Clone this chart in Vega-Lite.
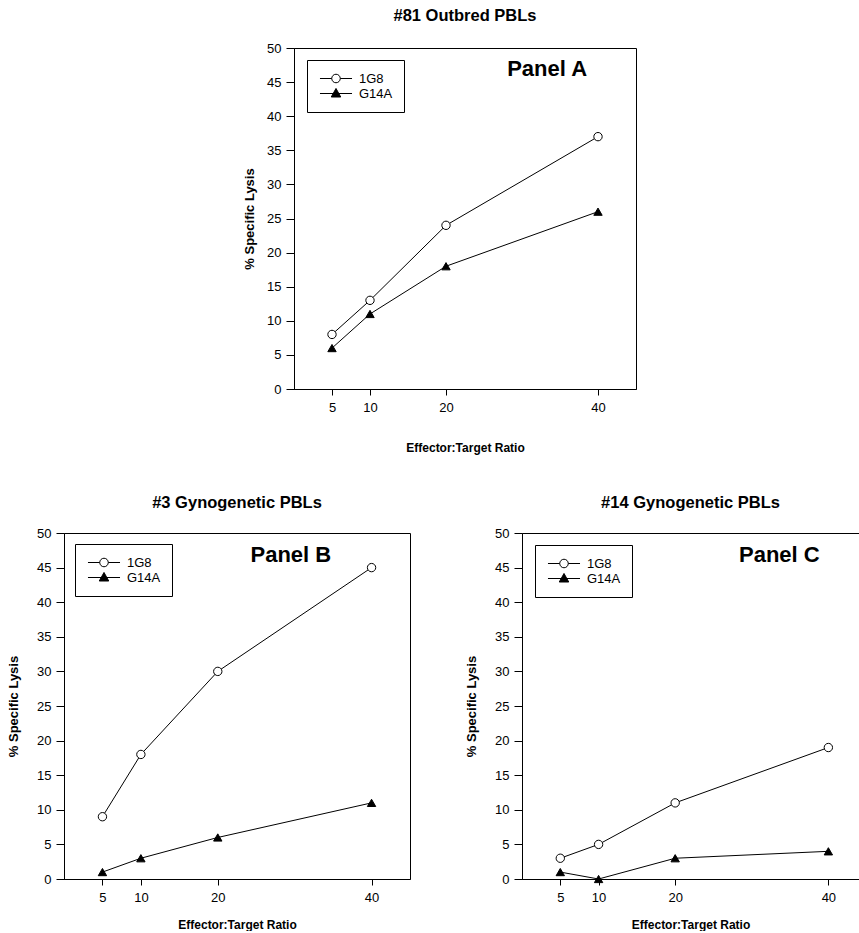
{
  "$schema": "https://vega.github.io/schema/vega-lite/v6.json",
  "background": "white",
  "padding": {"left": 7, "top": 7, "right": 0, "bottom": 0},
  "datasets": {
    "lysis": [
      {"panel": "A", "clone": "1G8", "ratio": 5, "lysis": 8},
      {"panel": "A", "clone": "1G8", "ratio": 10, "lysis": 13},
      {"panel": "A", "clone": "1G8", "ratio": 20, "lysis": 24},
      {"panel": "A", "clone": "1G8", "ratio": 40, "lysis": 37},
      {"panel": "A", "clone": "G14A", "ratio": 5, "lysis": 6},
      {"panel": "A", "clone": "G14A", "ratio": 10, "lysis": 11},
      {"panel": "A", "clone": "G14A", "ratio": 20, "lysis": 18},
      {"panel": "A", "clone": "G14A", "ratio": 40, "lysis": 26},
      {"panel": "B", "clone": "1G8", "ratio": 5, "lysis": 9},
      {"panel": "B", "clone": "1G8", "ratio": 10, "lysis": 18},
      {"panel": "B", "clone": "1G8", "ratio": 20, "lysis": 30},
      {"panel": "B", "clone": "1G8", "ratio": 40, "lysis": 45},
      {"panel": "B", "clone": "G14A", "ratio": 5, "lysis": 1},
      {"panel": "B", "clone": "G14A", "ratio": 10, "lysis": 3},
      {"panel": "B", "clone": "G14A", "ratio": 20, "lysis": 6},
      {"panel": "B", "clone": "G14A", "ratio": 40, "lysis": 11},
      {"panel": "C", "clone": "1G8", "ratio": 5, "lysis": 3},
      {"panel": "C", "clone": "1G8", "ratio": 10, "lysis": 5},
      {"panel": "C", "clone": "1G8", "ratio": 20, "lysis": 11},
      {"panel": "C", "clone": "1G8", "ratio": 40, "lysis": 19},
      {"panel": "C", "clone": "G14A", "ratio": 5, "lysis": 1},
      {"panel": "C", "clone": "G14A", "ratio": 10, "lysis": 0},
      {"panel": "C", "clone": "G14A", "ratio": 20, "lysis": 3},
      {"panel": "C", "clone": "G14A", "ratio": 40, "lysis": 4}
    ],
    "panels": [
      {"panel": "A", "label": "Panel A"},
      {"panel": "B", "label": "Panel B"},
      {"panel": "C", "label": "Panel C"}
    ]
  },
  "spacing": 0,
  "bounds": "flush",
  "vconcat": [
    {
      "spacing": 0,
      "bounds": "flush",
      "resolve": {"scale": {"shape": "independent", "fill": "independent", "stroke": "independent"}, "legend": {"shape": "independent", "fill": "independent", "stroke": "independent"}},
      "hconcat": [
        {
          "width": 230,
          "height": 1,
          "data": {"values": [{}]},
          "mark": {"type": "point", "opacity": 0},
          "encoding": {},
          "view": {"stroke": null}
        },
        {
          "width": 342,
          "height": 341,
          "title": {"text": "#81 Outbred PBLs", "offset": 18},
          "resolve": {"scale": {"shape": "independent", "fill": "independent", "stroke": "independent"}, "legend": {"shape": "independent", "fill": "independent", "stroke": "independent"}},
          "layer": [
            {
              "data": {"name": "lysis"},
              "transform": [{"filter": "datum.panel === 'A'"}],
              "mark": {"type": "line", "color": "black", "strokeWidth": 1},
              "encoding": {
                "x": {"field": "ratio", "type": "quantitative", "scale": {"domain": [0, 45], "nice": false, "zero": false},
                      "axis": {"values": [5, 10, 20, 40], "title": "Effector:Target Ratio", "titlePadding": 28}},
                "y": {"field": "lysis", "type": "quantitative", "scale": {"domain": [0, 50], "nice": false},
                      "axis": {"values": [0, 5, 10, 15, 20, 25, 30, 35, 40, 45, 50], "title": "% Specific Lysis", "titlePadding": 10}},
                "detail": {"field": "clone"}
              }
            },
            {
              "data": {"name": "lysis"},
              "transform": [{"filter": "datum.panel === 'A'"}],
              "mark": {"type": "point", "filled": true, "strokeWidth": 1, "size": 196, "opacity": 0},
              "encoding": {
                "x": {"field": "ratio", "type": "quantitative",
                      "axis": {"values": [5, 10, 20, 40], "title": "Effector:Target Ratio", "titlePadding": 28}},
                "y": {"field": "lysis", "type": "quantitative",
                      "axis": {"values": [0, 5, 10, 15, 20, 25, 30, 35, 40, 45, 50], "title": "% Specific Lysis", "titlePadding": 10}},
                "shape": {"field": "clone", "type": "nominal",
                          "scale": {"domain": ["1G8", "G14A"], "range": ["M-2.29,0H-0.61M0.61,0H2.29M-0.61,0A0.61,0.61 0 1,0 0.61,0A0.61,0.61 0 1,0 -0.61,0", "M-2.29,0H2.29M0,-0.72L0.68,0.5H-0.68Z"]},
                          "legend": {"title": null, "orient": "none", "legendX": 13, "legendY": 12}},
                "fill": {"field": "clone", "type": "nominal", "scale": {"domain": ["1G8", "G14A"], "range": ["white", "black"]},
                         "legend": {"title": null, "orient": "none", "legendX": 13, "legendY": 12}},
                "stroke": {"field": "clone", "type": "nominal", "scale": {"domain": ["1G8", "G14A"], "range": ["black", "black"]},
                         "legend": {"title": null, "orient": "none", "legendX": 13, "legendY": 12}}
              }
            },
            {
              "data": {"name": "lysis"},
              "transform": [{"filter": "datum.panel === 'A'"}],
              "mark": {"type": "point", "filled": true, "stroke": "black", "strokeWidth": 1, "size": 70, "opacity": 1},
              "encoding": {
                "x": {"field": "ratio", "type": "quantitative",
                      "axis": {"values": [5, 10, 20, 40], "title": "Effector:Target Ratio", "titlePadding": 28}},
                "y": {"field": "lysis", "type": "quantitative",
                      "axis": {"values": [0, 5, 10, 15, 20, 25, 30, 35, 40, 45, 50], "title": "% Specific Lysis", "titlePadding": 10}},
                "shape": {"field": "clone", "type": "nominal", "scale": {"range": ["circle", "triangle-up"]}, "legend": null},
                "fill": {"field": "clone", "type": "nominal", "scale": {"range": ["white", "black"]}, "legend": null}
              }
            },
            {
              "data": {"name": "panels"},
              "transform": [{"filter": "datum.panel === 'A'"}],
              "mark": {"type": "text", "fontSize": 22, "fontWeight": "bold", "color": "black", "align": "center", "baseline": "middle"},
              "encoding": {
                "x": {"datum": 33.3, "type": "quantitative",
                      "axis": {"values": [5, 10, 20, 40], "title": "Effector:Target Ratio", "titlePadding": 28}},
                "y": {"datum": 46.9, "type": "quantitative",
                      "axis": {"values": [0, 5, 10, 15, 20, 25, 30, 35, 40, 45, 50], "title": "% Specific Lysis", "titlePadding": 10}},
                "text": {"field": "label"}
              }
            }
          ]
        }
      ]
    },
    {
      "width": 1,
      "height": 485,
      "data": {"values": [{}]},
      "mark": {"type": "point", "opacity": 0},
      "encoding": {},
      "view": {"stroke": null}
    },
    {
      "spacing": 112,
      "bounds": "flush",
      "resolve": {"scale": {"shape": "independent", "fill": "independent", "stroke": "independent"}, "legend": {"shape": "independent", "fill": "independent", "stroke": "independent"}},
      "hconcat": [
        {
          "width": 346,
          "height": 346,
          "title": {"text": "#3 Gynogenetic PBLs", "offset": 16},
          "resolve": {"scale": {"shape": "independent", "fill": "independent", "stroke": "independent"}, "legend": {"shape": "independent", "fill": "independent", "stroke": "independent"}},
          "layer": [
            {
              "data": {"name": "lysis"},
              "transform": [{"filter": "datum.panel === 'B'"}],
              "mark": {"type": "line", "color": "black", "strokeWidth": 1},
              "encoding": {
                "x": {"field": "ratio", "type": "quantitative", "scale": {"domain": [0, 45], "nice": false, "zero": false},
                      "axis": {"values": [5, 10, 20, 40], "title": "Effector:Target Ratio", "titlePadding": 15}},
                "y": {"field": "lysis", "type": "quantitative", "scale": {"domain": [0, 50], "nice": false},
                      "axis": {"values": [0, 5, 10, 15, 20, 25, 30, 35, 40, 45, 50], "title": "% Specific Lysis", "titlePadding": 16}},
                "detail": {"field": "clone"}
              }
            },
            {
              "data": {"name": "lysis"},
              "transform": [{"filter": "datum.panel === 'B'"}],
              "mark": {"type": "point", "filled": true, "strokeWidth": 1, "size": 196, "opacity": 0},
              "encoding": {
                "x": {"field": "ratio", "type": "quantitative",
                      "axis": {"values": [5, 10, 20, 40], "title": "Effector:Target Ratio", "titlePadding": 15}},
                "y": {"field": "lysis", "type": "quantitative",
                      "axis": {"values": [0, 5, 10, 15, 20, 25, 30, 35, 40, 45, 50], "title": "% Specific Lysis", "titlePadding": 16}},
                "shape": {"field": "clone", "type": "nominal",
                          "scale": {"domain": ["1G8", "G14A"], "range": ["M-2.29,0H-0.61M0.61,0H2.29M-0.61,0A0.61,0.61 0 1,0 0.61,0A0.61,0.61 0 1,0 -0.61,0", "M-2.29,0H2.29M0,-0.72L0.68,0.5H-0.68Z"]},
                          "legend": {"title": null, "orient": "none", "legendX": 11, "legendY": 11}},
                "fill": {"field": "clone", "type": "nominal", "scale": {"domain": ["1G8", "G14A"], "range": ["white", "black"]},
                         "legend": {"title": null, "orient": "none", "legendX": 11, "legendY": 11}},
                "stroke": {"field": "clone", "type": "nominal", "scale": {"domain": ["1G8", "G14A"], "range": ["black", "black"]},
                         "legend": {"title": null, "orient": "none", "legendX": 11, "legendY": 11}}
              }
            },
            {
              "data": {"name": "lysis"},
              "transform": [{"filter": "datum.panel === 'B'"}],
              "mark": {"type": "point", "filled": true, "stroke": "black", "strokeWidth": 1, "size": 70, "opacity": 1},
              "encoding": {
                "x": {"field": "ratio", "type": "quantitative",
                      "axis": {"values": [5, 10, 20, 40], "title": "Effector:Target Ratio", "titlePadding": 15}},
                "y": {"field": "lysis", "type": "quantitative",
                      "axis": {"values": [0, 5, 10, 15, 20, 25, 30, 35, 40, 45, 50], "title": "% Specific Lysis", "titlePadding": 16}},
                "shape": {"field": "clone", "type": "nominal", "scale": {"range": ["circle", "triangle-up"]}, "legend": null},
                "fill": {"field": "clone", "type": "nominal", "scale": {"range": ["white", "black"]}, "legend": null}
              }
            },
            {
              "data": {"name": "panels"},
              "transform": [{"filter": "datum.panel === 'B'"}],
              "mark": {"type": "text", "fontSize": 22, "fontWeight": "bold", "color": "black", "align": "center", "baseline": "middle"},
              "encoding": {
                "x": {"datum": 29.5, "type": "quantitative",
                      "axis": {"values": [5, 10, 20, 40], "title": "Effector:Target Ratio", "titlePadding": 15}},
                "y": {"datum": 46.8, "type": "quantitative",
                      "axis": {"values": [0, 5, 10, 15, 20, 25, 30, 35, 40, 45, 50], "title": "% Specific Lysis", "titlePadding": 16}},
                "text": {"field": "label"}
              }
            }
          ]
        },
        {
          "width": 337,
          "height": 346,
          "title": {"text": "#14 Gynogenetic PBLs", "offset": 16},
          "resolve": {"scale": {"shape": "independent", "fill": "independent", "stroke": "independent"}, "legend": {"shape": "independent", "fill": "independent", "stroke": "independent"}},
          "layer": [
            {
              "data": {"name": "lysis"},
              "transform": [{"filter": "datum.panel === 'C'"}],
              "mark": {"type": "line", "color": "black", "strokeWidth": 1},
              "encoding": {
                "x": {"field": "ratio", "type": "quantitative", "scale": {"domain": [0, 44], "nice": false, "zero": false},
                      "axis": {"values": [5, 10, 20, 40], "title": "Effector:Target Ratio", "titlePadding": 15}},
                "y": {"field": "lysis", "type": "quantitative", "scale": {"domain": [0, 50], "nice": false},
                      "axis": {"values": [0, 5, 10, 15, 20, 25, 30, 35, 40, 45, 50], "title": "% Specific Lysis", "titlePadding": 16}},
                "detail": {"field": "clone"}
              }
            },
            {
              "data": {"name": "lysis"},
              "transform": [{"filter": "datum.panel === 'C'"}],
              "mark": {"type": "point", "filled": true, "strokeWidth": 1, "size": 196, "opacity": 0},
              "encoding": {
                "x": {"field": "ratio", "type": "quantitative",
                      "axis": {"values": [5, 10, 20, 40], "title": "Effector:Target Ratio", "titlePadding": 15}},
                "y": {"field": "lysis", "type": "quantitative",
                      "axis": {"values": [0, 5, 10, 15, 20, 25, 30, 35, 40, 45, 50], "title": "% Specific Lysis", "titlePadding": 16}},
                "shape": {"field": "clone", "type": "nominal",
                          "scale": {"domain": ["1G8", "G14A"], "range": ["M-2.29,0H-0.61M0.61,0H2.29M-0.61,0A0.61,0.61 0 1,0 0.61,0A0.61,0.61 0 1,0 -0.61,0", "M-2.29,0H2.29M0,-0.72L0.68,0.5H-0.68Z"]},
                          "legend": {"title": null, "orient": "none", "legendX": 13, "legendY": 12}},
                "fill": {"field": "clone", "type": "nominal", "scale": {"domain": ["1G8", "G14A"], "range": ["white", "black"]},
                         "legend": {"title": null, "orient": "none", "legendX": 13, "legendY": 12}},
                "stroke": {"field": "clone", "type": "nominal", "scale": {"domain": ["1G8", "G14A"], "range": ["black", "black"]},
                         "legend": {"title": null, "orient": "none", "legendX": 13, "legendY": 12}}
              }
            },
            {
              "data": {"name": "lysis"},
              "transform": [{"filter": "datum.panel === 'C'"}],
              "mark": {"type": "point", "filled": true, "stroke": "black", "strokeWidth": 1, "size": 70, "opacity": 1},
              "encoding": {
                "x": {"field": "ratio", "type": "quantitative",
                      "axis": {"values": [5, 10, 20, 40], "title": "Effector:Target Ratio", "titlePadding": 15}},
                "y": {"field": "lysis", "type": "quantitative",
                      "axis": {"values": [0, 5, 10, 15, 20, 25, 30, 35, 40, 45, 50], "title": "% Specific Lysis", "titlePadding": 16}},
                "shape": {"field": "clone", "type": "nominal", "scale": {"range": ["circle", "triangle-up"]}, "legend": null},
                "fill": {"field": "clone", "type": "nominal", "scale": {"range": ["white", "black"]}, "legend": null}
              }
            },
            {
              "data": {"name": "panels"},
              "transform": [{"filter": "datum.panel === 'C'"}],
              "mark": {"type": "text", "fontSize": 22, "fontWeight": "bold", "color": "black", "align": "center", "baseline": "middle"},
              "encoding": {
                "x": {"datum": 33.6, "type": "quantitative",
                      "axis": {"values": [5, 10, 20, 40], "title": "Effector:Target Ratio", "titlePadding": 15}},
                "y": {"datum": 46.8, "type": "quantitative",
                      "axis": {"values": [0, 5, 10, 15, 20, 25, 30, 35, 40, 45, 50], "title": "% Specific Lysis", "titlePadding": 16}},
                "text": {"field": "label"}
              }
            }
          ]
        }
      ]
    }
  ],
  "config": {
    "font": "Liberation Sans",
    "view": {"stroke": "black", "strokeWidth": 1},
    "title": {"fontSize": 16.5, "fontWeight": "bold", "color": "black", "font": "Liberation Sans"},
    "text": {"font": "Liberation Sans"},
    "axis": {
      "grid": false, "domainColor": "black", "tickColor": "black", "labelColor": "black", "titleColor": "black",
      "labelFont": "Liberation Sans", "titleFont": "Liberation Sans", "labelFontSize": 13, "titleFontWeight": "bold",
      "labelFlush": false, "labelOverlap": false
    },
    "axisX": {"tickSize": 6, "labelPadding": 6, "titleFontSize": 12},
    "axisY": {"tickSize": 8, "labelPadding": 5, "titleFontSize": 13},
    "legend": {
      "strokeColor": "black",
      "padding": 11,
      "rowPadding": -6,
      "symbolSize": 196,
      "symbolOffset": 10.5,
      "symbolOpacity": 1,
      "symbolStrokeWidth": 1,
      "labelFontSize": 13,
      "labelFont": "Liberation Sans",
      "labelColor": "black",
      "labelOffset": 15.5
    }
  }
}
